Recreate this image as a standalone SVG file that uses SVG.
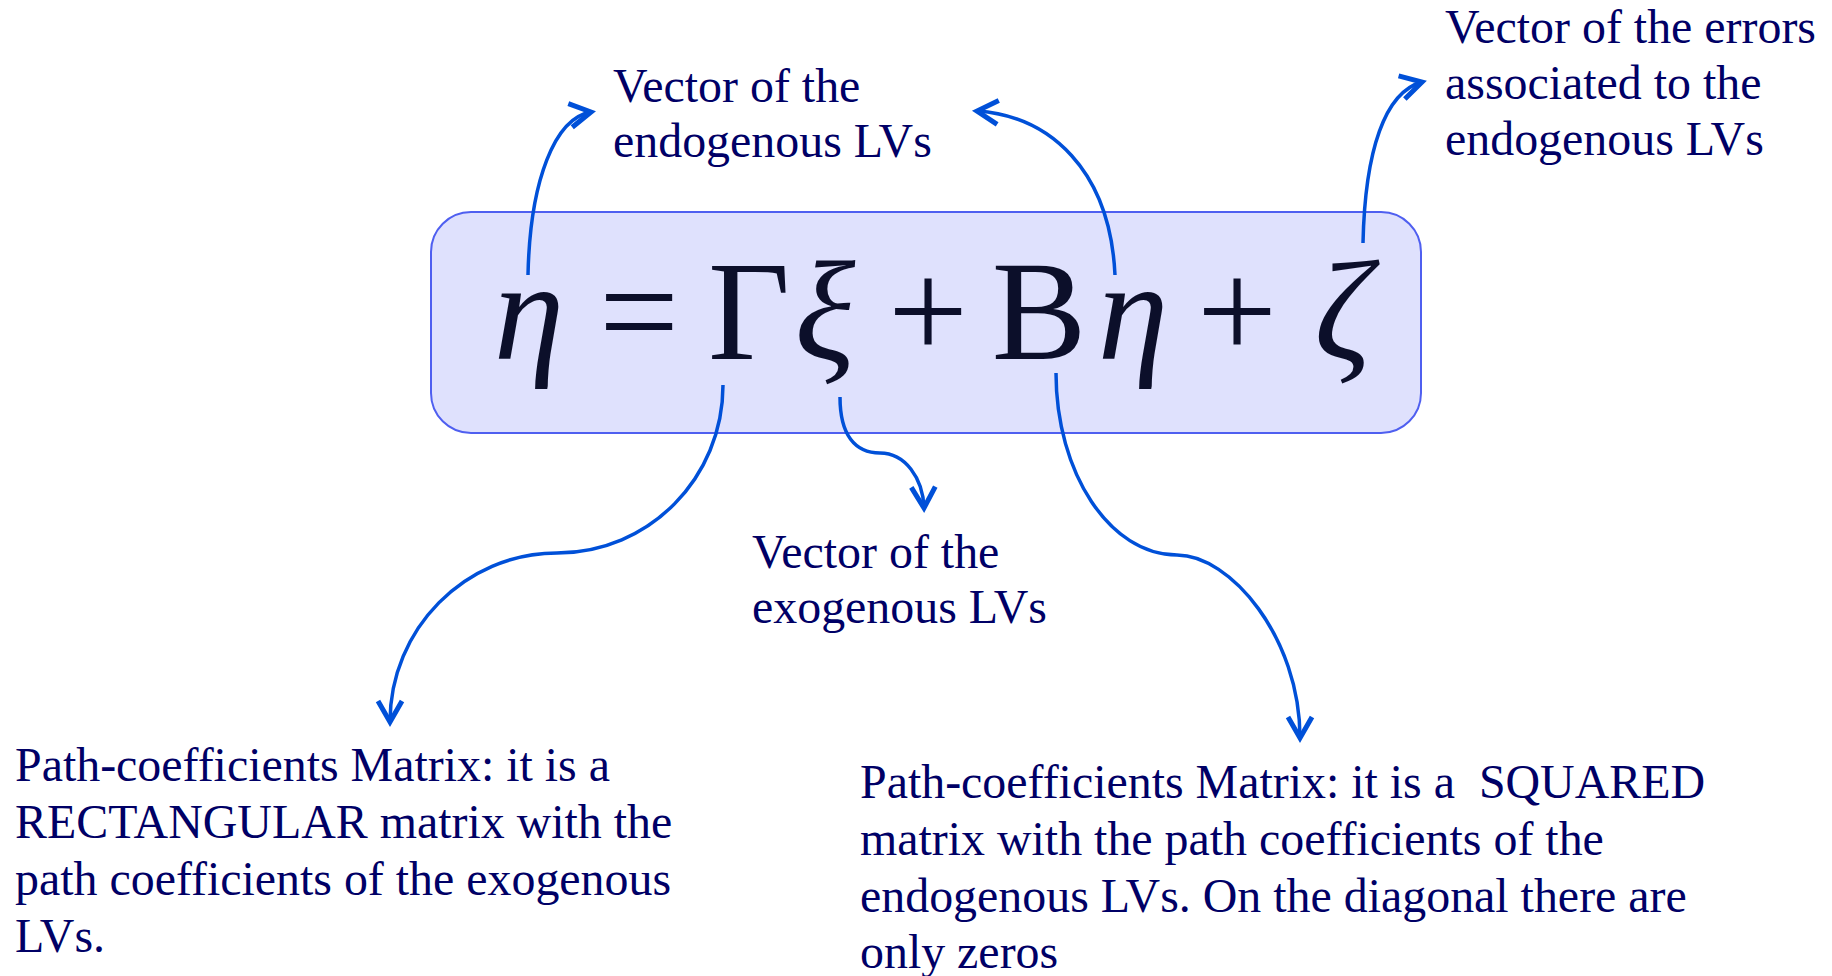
<svg xmlns="http://www.w3.org/2000/svg" width="1832" height="976" viewBox="0 0 1832 976">
<style>
.lbl{font-family:"Liberation Serif","Times New Roman",serif;font-size:47.9px;fill:#000066}
.eq{font-family:"Liberation Serif","Times New Roman",serif;font-size:142px;fill:#0c0f2a;text-anchor:middle}
.it{font-style:italic}
.con{fill:none;stroke:#0050d8;stroke-width:3.5;marker-end:url(#ah)}
</style>
<defs>
<marker id="ah" markerUnits="userSpaceOnUse" markerWidth="30" markerHeight="30" refX="0" refY="0" orient="auto" overflow="visible">
<path d="M-21,-12 L0,0 L-21,12" fill="none" stroke="#0050d8" stroke-width="5" stroke-linejoin="miter"/>
</marker>
</defs>
<rect width="1832" height="976" fill="#ffffff"/>
<g id="equation">
<rect x="431" y="212" width="990" height="221" rx="40" ry="40" fill="#dfe1fd" stroke="#4f5ff0" stroke-width="2"/>
<text class="eq it" x="529" y="359">η</text>
<text class="eq" x="639" y="359">=</text>
<text class="eq" x="749" y="359">Γ</text>
<text class="eq it" x="825" y="359">ξ</text>
<text class="eq" x="928" y="359">+</text>
<text class="eq" x="1039" y="359">B</text>
<text class="eq it" x="1133" y="359">η</text>
<text class="eq" x="1237" y="359">+</text>
<text class="eq it" x="1343" y="359">ζ</text>
</g>
<g id="connectors">
<path class="con" d="M528,275 C530,180 555,118 591,112"/>
<path class="con" d="M1115,275 C1110,170 1050,116 977,111"/>
<path class="con" d="M1363,243 C1365,150 1385,92 1422,82"/>
<path class="con" d="M723,385 C723,478 649,553 557,553 C465,553 390,629 390,722"/>
<path class="con" d="M840,397 C840,435 855,453 880,453 C905,453 923,478 924,508"/>
<path class="con" d="M1056,373 C1056,473 1110,555 1177,555 C1230,555 1300,637 1300,738"/>
</g>
<g id="label-endogenous">
<text class="lbl" x="613" y="102">Vector of the</text>
<text class="lbl" x="613" y="157">endogenous LVs</text>
</g>
<g id="label-errors">
<text class="lbl" x="1445" y="43">Vector of the errors</text>
<text class="lbl" x="1445" y="99">associated to the</text>
<text class="lbl" x="1445" y="155">endogenous LVs</text>
</g>
<g id="label-exogenous">
<text class="lbl" x="752" y="568">Vector of the</text>
<text class="lbl" x="752" y="623">exogenous LVs</text>
</g>
<g id="label-gamma">
<text class="lbl" x="15" y="781">Path-coefficients Matrix: it is a</text>
<text class="lbl" x="15" y="838">RECTANGULAR matrix with the</text>
<text class="lbl" x="15" y="895">path coefficients of the exogenous</text>
<text class="lbl" x="15" y="952">LVs.</text>
</g>
<g id="label-b">
<text class="lbl" x="860" y="798" xml:space="preserve">Path-coefficients Matrix: it is a  SQUARED</text>
<text class="lbl" x="860" y="855">matrix with the path coefficients of the</text>
<text class="lbl" x="860" y="912">endogenous LVs. On the diagonal there are</text>
<text class="lbl" x="860" y="968">only zeros</text>
</g>
</svg>
